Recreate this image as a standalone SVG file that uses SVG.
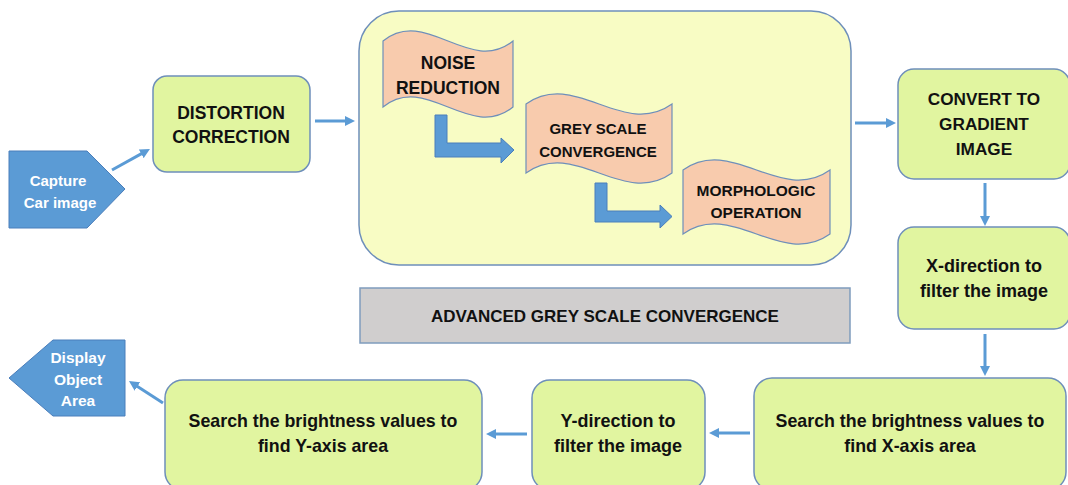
<svg xmlns="http://www.w3.org/2000/svg" width="1068" height="485" viewBox="0 0 1068 485">
  <style>
    .box { fill: #E1F5A0; stroke: #6E8FBA; stroke-width: 1.5; }
    .stage { fill: #F8FCC4; stroke: #6E8FBA; stroke-width: 1.5; }
    .bar { fill: #D0CECE; stroke: #7F9CBD; stroke-width: 1.5; }
    .wave { fill: #F8CBAD; stroke: #6E8FBA; stroke-width: 1.2; }
    .tag { fill: #5B9BD5; stroke: #4A7EBB; stroke-width: 1; }
    .bent { fill: #5B9BD5; stroke: #4A7EBB; stroke-width: 1; }
    .t { font-family: "Liberation Sans", Arial, sans-serif; font-weight: bold; fill: #111; text-anchor: middle; }
    .w { font-family: "Liberation Sans", Arial, sans-serif; font-weight: bold; fill: #FFFFFF; text-anchor: middle; }
    .link { stroke: #5B9BD5; stroke-width: 3; fill: none; marker-end: url(#head); }
  </style>
  <defs>
    <marker id="head" viewBox="0 0 10 10" refX="4" refY="5" markerWidth="10" markerHeight="10" markerUnits="userSpaceOnUse" orient="auto">
      <path d="M0,0 L10,5 L0,10 z" fill="#5B9BD5"/>
    </marker>
  </defs>

  <!-- input tag -->
  <g id="capture">
    <path class="tag" d="M9,151 H87 L125,189 L87,228 H9 Z"/>
    <text class="w" x="58" y="186" font-size="15">Capture</text>
    <text class="w" x="60" y="208" font-size="15">Car image</text>
  </g>

  <g id="distortion">
    <rect class="box" x="153" y="76" width="157" height="96" rx="14"/>
    <text class="t" x="231" y="119" font-size="17.5">DISTORTION</text>
    <text class="t" x="231" y="143" font-size="17.5">CORRECTION</text>
  </g>

  <!-- grey scale convergence stage container -->
  <g id="stage">
    <rect class="stage" x="359" y="11" width="492" height="254" rx="40"/>
  </g>

  <g id="noise">
    <path class="wave" d="M383,41 C426,6 470,76 513,41 L513,107 C470,142 426,72 383,107 Z"/>
    <text class="t" x="448" y="69" font-size="17.5">NOISE</text>
    <text class="t" x="448" y="94" font-size="17.5">REDUCTION</text>
  </g>

  <g id="greyscale">
    <path class="wave" d="M526,104 C575,69 623,139 672,104 L672,173 C623,208 575,138 526,173 Z"/>
    <text class="t" x="598" y="134" font-size="15">GREY SCALE</text>
    <text class="t" x="598" y="157" font-size="15">CONVERGENCE</text>
  </g>

  <g id="morphologic">
    <path class="wave" d="M683,170 C732,135 781,205 830,170 L830,234 C781,269 732,199 683,234 Z"/>
    <text class="t" x="756" y="196" font-size="15.5">MORPHOLOGIC</text>
    <text class="t" x="756" y="218" font-size="15.5">OPERATION</text>
  </g>

  <g id="stage-label">
    <rect class="bar" x="360" y="288" width="490" height="55"/>
    <text class="t" x="605" y="322" font-size="17">ADVANCED GREY SCALE CONVERGENCE</text>
  </g>

  <g id="gradient">
    <rect class="box" x="898" y="69" width="172" height="110" rx="16"/>
    <text class="t" x="984" y="105" font-size="17.2">CONVERT TO</text>
    <text class="t" x="984" y="130" font-size="17.2">GRADIENT</text>
    <text class="t" x="984" y="155" font-size="17.2">IMAGE</text>
  </g>

  <g id="xfilter">
    <rect class="box" x="898" y="227" width="172" height="102" rx="16"/>
    <text class="t" x="984" y="272" font-size="18">X-direction to</text>
    <text class="t" x="984" y="297" font-size="18">filter the image</text>
  </g>

  <g id="xsearch">
    <rect class="box" x="754" y="378" width="312" height="112" rx="18"/>
    <text class="t" x="910" y="427" font-size="17.8">Search the brightness values to</text>
    <text class="t" x="910" y="452" font-size="17.8">find X-axis area</text>
  </g>

  <g id="yfilter">
    <rect class="box" x="532" y="380" width="173" height="110" rx="18"/>
    <text class="t" x="618" y="427" font-size="18">Y-direction to</text>
    <text class="t" x="618" y="452" font-size="18">filter the image</text>
  </g>

  <g id="ysearch">
    <rect class="box" x="165" y="380" width="317" height="110" rx="18"/>
    <text class="t" x="323" y="427" font-size="17.8">Search the brightness values to</text>
    <text class="t" x="323" y="452" font-size="17.8">find Y-axis area</text>
  </g>

  <!-- output tag -->
  <g id="display">
    <path class="tag" d="M9,378 L53,340 H125 V416 H53 Z"/>
    <text class="w" x="78" y="363" font-size="15.5">Display</text>
    <text class="w" x="78" y="385" font-size="15.5">Object</text>
    <text class="w" x="78" y="406" font-size="15.5">Area</text>
  </g>

  <g id="connectors">
    <line class="link" x1="112" y1="170" x2="144.7" y2="151.9"/>
    <line class="link" x1="315" y1="121" x2="349" y2="121"/>
    <line class="link" x1="855" y1="123" x2="890" y2="123"/>
    <line class="link" x1="985" y1="183" x2="985" y2="220"/>
    <line class="link" x1="985" y1="334" x2="985" y2="370"/>
    <line class="link" x1="750" y1="433" x2="715" y2="433"/>
    <line class="link" x1="527" y1="434" x2="492" y2="434"/>
    <line class="link" x1="163" y1="403" x2="134" y2="384.3"/>
    <!-- bent block arrows inside the stage -->
    <path class="bent" d="M435,115 H447 V143 H501 V138 L514,150 L501,163 V157 H435 Z"/>
    <path class="bent" d="M595,183 H607 V211 H660 V205 L672,216.5 L660,228 V222 H595 Z"/>
  </g>
</svg>
